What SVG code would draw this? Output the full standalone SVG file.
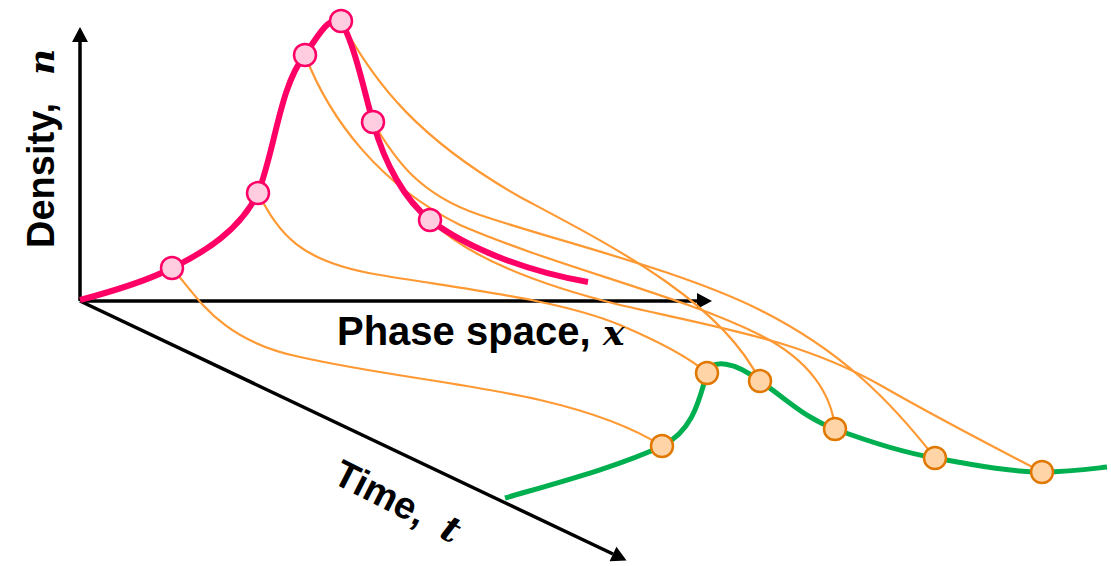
<svg xmlns="http://www.w3.org/2000/svg" width="1111" height="566" viewBox="0 0 1111 566">
<style>
.ax{stroke:#000;stroke-width:3.5;fill:none}
.tr{stroke:#FF9933;stroke-width:2.2;fill:none}
.pk{stroke:#FF0066;stroke-width:6;fill:none;stroke-linecap:butt}
.gr{stroke:#00B050;stroke-width:5;fill:none}
.pn{fill:#FFCCE0;stroke:#FF0066;stroke-width:2.5}
.gn{fill:#FFD5A8;stroke:#E07800;stroke-width:2.5}
.lb{font-family:"Liberation Sans",Arial,sans-serif;font-weight:bold;font-size:38px;fill:#000}
.mv{font-family:"DejaVu Serif","Liberation Serif",serif;font-style:italic;font-weight:bold;font-size:36px}
</style>
<defs>
<marker id="arr" markerUnits="userSpaceOnUse" markerWidth="16" markerHeight="17" refX="0" refY="8" orient="auto" overflow="visible">
<path d="M0,0 L15,8 L0,16 Z" fill="#000"/>
</marker>
</defs>
<rect width="1111" height="566" fill="#fff"/>
<g id="axes">
<line class="ax" x1="80" y1="301" x2="80" y2="42" marker-end="url(#arr)"/>
<line class="ax" x1="80" y1="301" x2="697" y2="301" marker-end="url(#arr)"/>
<line class="ax" x1="80" y1="301" x2="613" y2="554" marker-end="url(#arr)"/>
</g>
<g id="connectors">
<path class="tr" d="M172,268 C200,300 220,340 300,357 C380,375 460,382 540,400 C600,414 640,432 662,446"/>
<path class="tr" d="M258,193 C280,235 300,262 380,275 C470,290 560,300 620,325 C660,342 690,358 707,373"/>
<path class="tr" d="M305,55 C330,120 380,185 460,225 C560,268 680,295 760,335 C810,360 832,395 835,429"/>
<path class="tr" d="M341,21 C375,85 420,140 520,197 C610,245 720,300 760,381"/>
<path class="tr" d="M373,122 C395,160 420,195 480,215 C560,242 680,270 760,310 C840,350 890,400 935,458"/>
<path class="tr" d="M430,220 C460,250 520,280 620,305 C720,328 800,340 880,385 C950,425 1000,450 1042,472"/>
</g>
<g id="initial-curve">
<path class="pk" d="M80,300 C110,292 145,282 172,268 C205,252 240,230 258,193 C275,150 280,85 305,55 C318,35 330,15 341,21 C355,45 365,95 373,122 C385,165 405,200 430,220 C470,250 530,272 588,282"/>
</g>
<g id="final-curve">
<path class="gr" d="M505,498 C560,482 620,466 662,446 C695,430 700,395 707,373 C712,358 735,362 760,381 C790,402 805,418 835,429 C870,442 900,452 935,458 C975,465 1010,472 1042,472 C1070,472 1090,469 1107,467"/>
</g>
<g id="p1"><circle class="pn" cx="172" cy="268" r="11"/></g>
<g id="p2"><circle class="pn" cx="258" cy="193" r="11"/></g>
<g id="p3"><circle class="pn" cx="305" cy="55" r="11"/></g>
<g id="p4"><circle class="pn" cx="341" cy="21" r="11"/></g>
<g id="p5"><circle class="pn" cx="373" cy="122" r="11"/></g>
<g id="p6"><circle class="pn" cx="430" cy="220" r="11"/></g>
<g id="g1"><circle class="gn" cx="662" cy="446" r="11"/></g>
<g id="g2"><circle class="gn" cx="707" cy="373" r="11"/></g>
<g id="g3"><circle class="gn" cx="760" cy="381" r="11"/></g>
<g id="g4"><circle class="gn" cx="835" cy="429" r="11"/></g>
<g id="g5"><circle class="gn" cx="935" cy="458" r="11"/></g>
<g id="g6"><circle class="gn" cx="1042" cy="472" r="11"/></g>
<g id="label-density">
<text class="lb" transform="translate(54,248) rotate(-90)">Density,<tspan class="mv" x="173">n</tspan></text>
</g>
<g id="label-phase">
<text class="lb" x="337" y="345" style="font-size:40px">Phase space,<tspan class="mv" x="603" style="font-size:36px">x</tspan></text>
</g>
<g id="label-time">
<text class="lb" transform="translate(331,482) rotate(27)">Time,<tspan class="mv" x="120">t</tspan></text>
</g>
</svg>
